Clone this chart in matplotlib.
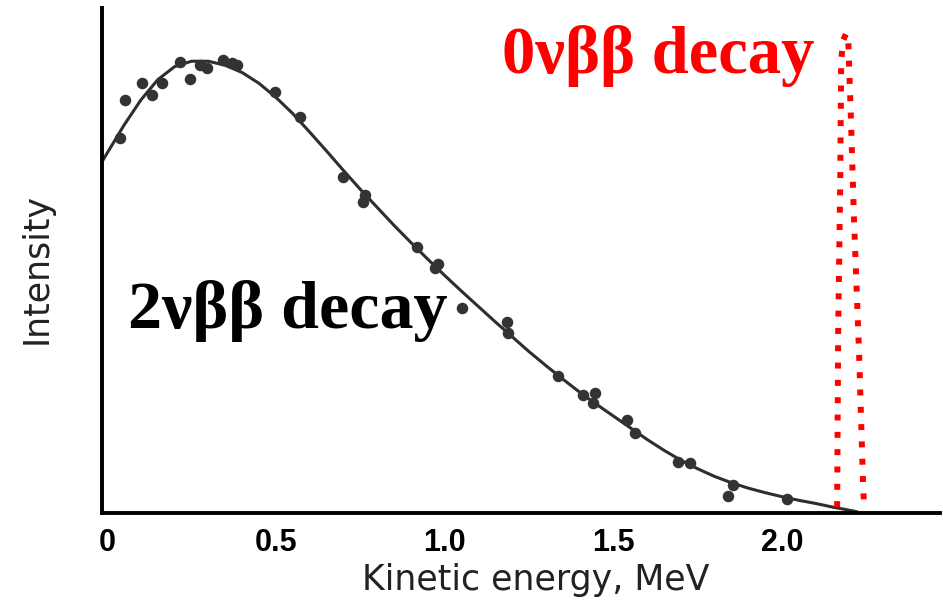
import numpy as np
import matplotlib
matplotlib.use("Agg")
import matplotlib.pyplot as plt

# fitted 2nbb spectrum (energy in MeV, intensity in arbitrary units)
curve_e = [-0.015, 0.0, 0.05, 0.10, 0.15, 0.20, 0.25, 0.30, 0.35, 0.40,
           0.45, 0.50, 0.55, 0.60, 0.65, 0.70, 0.75, 0.80, 0.85, 0.90,
           0.95, 1.00, 1.05, 1.10, 1.15, 1.20, 1.25, 1.30, 1.35, 1.40,
           1.45, 1.50, 1.55, 1.60, 1.65, 1.70, 1.75, 1.80, 1.85, 1.90,
           1.95, 2.00, 2.05, 2.10, 2.15, 2.20, 2.22]
curve_i = [0.779, 0.798, 0.860, 0.916, 0.961, 0.990, 1.002, 1.002, 0.993, 0.977,
           0.953, 0.922, 0.886, 0.845, 0.803, 0.760, 0.718, 0.678, 0.638, 0.600,
           0.563, 0.527, 0.492, 0.458, 0.424, 0.391, 0.358, 0.327, 0.297, 0.268,
           0.241, 0.215, 0.189, 0.163, 0.139, 0.117, 0.098, 0.081, 0.067, 0.055,
           0.045, 0.036, 0.028, 0.021, 0.013, 0.006, 0.003]

# measured points
data_e = [0.039, 0.053, 0.104, 0.133, 0.163, 0.216, 0.246, 0.276, 0.296, 0.344,
          0.370, 0.385, 0.498, 0.572, 0.699, 0.764, 0.759, 0.919, 0.972, 0.981,
          1.052, 1.185, 1.188, 1.336, 1.410, 1.446, 1.440, 1.541, 1.564, 1.692,
          1.727, 1.855, 1.840, 2.015]
data_i = [0.831, 0.916, 0.953, 0.927, 0.953, 1.000, 0.962, 0.993, 0.987, 1.004,
          0.998, 0.993, 0.933, 0.878, 0.745, 0.705, 0.690, 0.590, 0.543, 0.552,
          0.455, 0.424, 0.399, 0.304, 0.262, 0.266, 0.244, 0.206, 0.177, 0.113,
          0.111, 0.062, 0.038, 0.031]

# 0nbb line at the endpoint
peak_e = [2.163, 2.166, 2.172, 2.175, 2.181, 2.190, 2.196, 2.204, 2.213, 2.228, 2.240, 2.243]
peak_i = [0.013, 0.399, 0.723, 1.004, 1.049, 1.064, 1.049, 0.871, 0.650, 0.355, 0.060, 0.013]

xticks = [0, 0.5, 1.0, 1.5, 2.0]
xtick_labels = ["0", "0.5", "1.0", "1.5", "2.0"]

fig = plt.figure(figsize=(9.43, 6.04), dpi=100)
ax = fig.add_axes([0.1082, 0.1507, 0.8887, 0.836])

ax.plot(curve_e, curve_i, color="#2e2e2e", lw=2.2, solid_joinstyle="round", zorder=2)
ax.plot(data_e, data_i, "o", color="#333333", ms=8.3, mec="none", zorder=3)
ax.plot(peak_e, peak_i, color="#ff0000", lw=4.3, ls=(0, (1, 1.9)),
        dash_capstyle="butt", zorder=4)

ax.set_xlim(-0.015, 2.468)
ax.set_ylim(0, 1.12)

for side in ["top", "right"]:
    ax.spines[side].set_visible(False)
for side in ["left", "bottom"]:
    ax.spines[side].set_linewidth(2.8)
    ax.spines[side].set_color("black")

ax.set_yticks([])
ax.set_xticks(xticks)
ax.set_xticklabels(xtick_labels, fontfamily="Liberation Sans", fontweight="bold", fontsize=22)
ax.tick_params(axis="x", length=0, pad=11)

fig.text(536 / 943, 1 - 580 / 604, "Kinetic energy, MeV", ha="center", va="center",
         fontfamily="DejaVu Sans", fontsize=25, color="#222222")
fig.text(37 / 943, 1 - 268 / 604, "Intensity", ha="center", va="center", rotation=90,
         fontfamily="DejaVu Sans", fontsize=25, color="#222222")

ax.text(0.062, 0.41, "2νββ decay", ha="left", va="baseline",
        fontfamily="Liberation Serif", fontweight="bold", fontsize=49, color="black")
ax.text(1.17, 0.976, "0νββ decay", ha="left", va="baseline",
        fontfamily="Liberation Serif", fontweight="bold", fontsize=48, color="#ff0000")

fig.savefig("out.png", dpi=100)
